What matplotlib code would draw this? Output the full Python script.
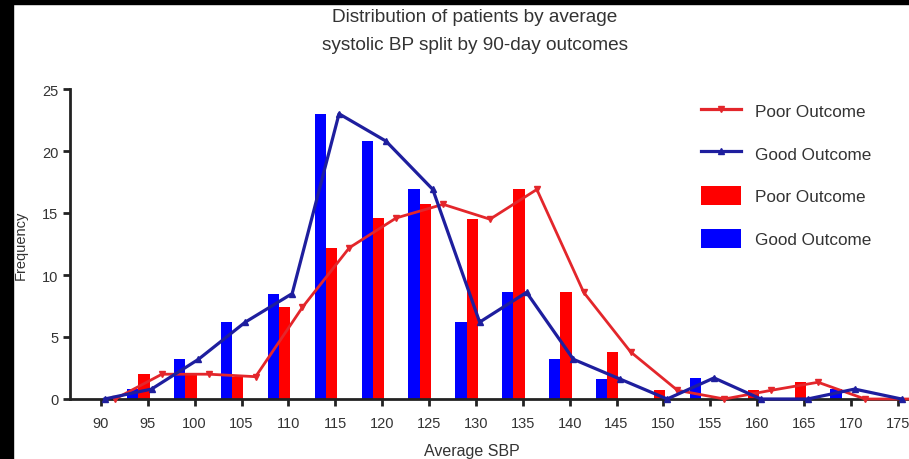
import numpy as np
import matplotlib
matplotlib.use("Agg")
import matplotlib.pyplot as plt
from matplotlib.patches import Rectangle, Patch
from matplotlib.lines import Line2D

plt.rcParams["font.family"] = ["Liberation Sans", "DejaVu Sans"]

sbp = [90, 95, 100, 105, 110, 115, 120, 125, 130, 135, 140, 145, 150, 155, 160, 165, 170, 175]
poor = [0.0, 2.0, 2.0, 1.8, 7.4, 12.2, 14.6, 15.7, 14.5, 16.9, 8.6, 3.8, 0.7, 0.0, 0.7, 1.35, 0.0, 0.0]
good = [0.0, 0.8, 3.2, 6.2, 8.5, 23.0, 20.8, 16.9, 6.2, 8.6, 3.2, 1.6, 0.0, 1.7, 0.0, 0.0, 0.8, 0.0]

red_bar = "#ff0000"
blue_bar = "#0000ff"
red_line = "#e3262b"
blue_line = "#1e1e9e"

x = np.array(sbp, dtype=float)

fig = plt.figure(figsize=(9.09, 4.6), dpi=100)
ax = fig.add_axes([70/909, 60/460, 839/909, 310/460])

w = 1.2
ax.bar(x - 1.6, good, width=w, color=blue_bar, zorder=2)
ax.bar(x - 0.4, poor, width=w, color=red_bar, zorder=2)
ax.plot(x + 1.5, poor, color=red_line, lw=2.0, marker="v", ms=5, zorder=3, clip_on=False)
ax.plot(x + 0.4, good, color=blue_line, lw=2.3, marker="^", ms=5, zorder=4, clip_on=False)

ax.set_xlim(86.7, 176.2)
ax.set_ylim(0, 25)
ax.set_xticks(sbp)
ax.set_yticks([0, 5, 10, 15, 20, 25])
ax.tick_params(axis="both", labelsize=10.5, width=2, length=5, color="#222222", labelcolor="#333333")
ax.tick_params(axis="x", pad=7)
for s in ["top", "right"]:
    ax.spines[s].set_visible(False)
for s in ["left", "bottom"]:
    ax.spines[s].set_linewidth(2)
    ax.spines[s].set_color("#222222")

ax.set_xlabel("Average SBP", fontsize=11.5, color="#333333")
ax.xaxis.set_label_coords((472 - 70) / 839, -44 / 310)
ax.set_ylabel("Frequency", fontsize=10.5, color="#333333")
ax.yaxis.set_label_coords(-42 / 839, 0.5)
fig.text(475/909, 1 - 17/460, "Distribution of patients by average", ha="center", va="center",
         fontsize=13.7, color="#333333")
fig.text(475/909, 1 - 45/460, "systolic BP split by 90-day outcomes", ha="center", va="center",
         fontsize=13.7, color="#333333")

handles = [
    Line2D([], [], color=red_line, lw=2.3, marker="v", ms=4),
    Line2D([], [], color=blue_line, lw=2.3, marker="^", ms=4),
    Patch(facecolor=red_bar),
    Patch(facecolor=blue_bar),
]
labels = ["Poor Outcome", "Good Outcome", "Poor Outcome", "Good Outcome"]
leg = ax.legend(handles, labels, loc="upper left", bbox_to_anchor=(701/909, 1 - 102/460),
                bbox_transform=fig.transFigure, frameon=False, fontsize=12.3,
                handlelength=2.34, handleheight=1.35, handletextpad=0.82, labelspacing=1.37,
                borderpad=0, borderaxespad=0)
for t in leg.get_texts():
    t.set_color("#333333")

# black frame edges of the original screenshot
fig.patches.append(Rectangle((0, 0), 13/909, 1, transform=fig.transFigure, color="black", zorder=10))
fig.patches.append(Rectangle((0, 1 - 5/460), 1, 5/460, transform=fig.transFigure, color="black", zorder=10))

fig.savefig("out.png", dpi=100)
